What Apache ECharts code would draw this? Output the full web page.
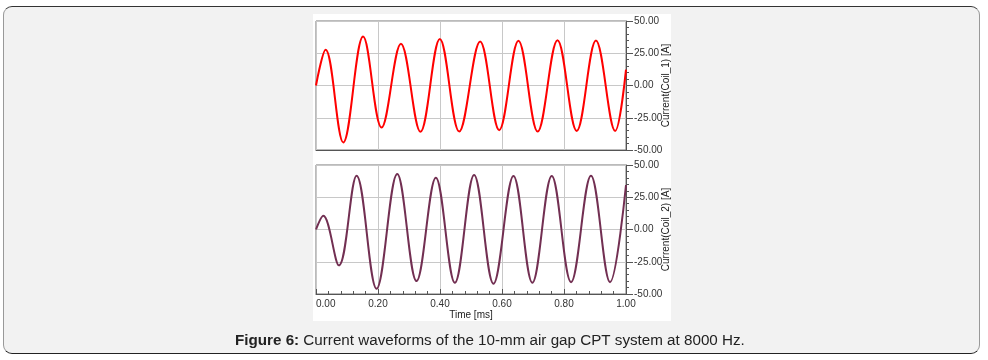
<!DOCTYPE html>
<html><head><meta charset="utf-8">
<script src="https://cdn.jsdelivr.net/npm/echarts@6/dist/echarts.min.js"></script>
<style>
html,body{margin:0;padding:0;background:#fff;}
#wrap{position:relative;width:988px;height:360px;overflow:hidden;}
#frame{position:absolute;left:3px;top:6px;width:975px;height:346px;background:#f2f2f2;border:1px solid #999;border-top-color:#333;border-bottom-color:#222;border-radius:9px;}
#panel{position:absolute;left:313px;top:14px;width:358px;height:307px;background:#fff;}
#chart{position:absolute;left:0;top:0;width:988px;height:360px;}
</style></head>
<body><div id="wrap"><div id="frame"></div><div id="panel"></div><div id="chart"></div></div>
<script>
// Time axis [ms]
const xTickValues = [0, 0.2, 0.4, 0.6, 0.8, 1.0];
const yTickValues = [-50, -25, 0, 25, 50];

// Coil_1 current: start, successive peaks/troughs, end
const coil1Time = [0, 0.031, 0.088, 0.152, 0.2115, 0.274, 0.337, 0.3995, 0.462, 0.5295, 0.591, 0.653, 0.715, 0.779, 0.841, 0.903, 0.965, 1.0];
const coil1Current = [0, 27.7, -44.1, 37.9, -32.6, 32.3, -35.9, 36.1, -35.6, 34.1, -34.6, 34.6, -35.7, 35.1, -35.2, 34.8, -35.2, 12.3];

// Coil_2 current: start, successive peaks/troughs, end
const coil2Time = [0, 0.0235, 0.074, 0.131, 0.1954, 0.262, 0.3243, 0.3866, 0.448, 0.510, 0.5725, 0.637, 0.698, 0.7605, 0.8228, 0.887, 0.9485, 1.0];
const coil2Current = [0, 10.6, -27.8, 41.7, -45.9, 43.0, -40.0, 40.2, -41.3, 42.3, -42.0, 41.5, -41.3, 41.5, -40.8, 41.7, -40.8, 34.5];

const FONT = '"Liberation Sans", Arial, sans-serif';
const chart = echarts.init(document.getElementById('chart'), null, {renderer: 'canvas'});

function yAxisCfg(gridIndex, name) {
  return {
    type: 'value', gridIndex: gridIndex, position: 'right',
    min: yTickValues[0], max: yTickValues[yTickValues.length - 1], interval: 25,
    axisLine: {show: true, onZero: false, lineStyle: {color: '#555', width: 1}},
    axisTick: {show: true, inside: false, length: 7, lineStyle: {color: '#555'}},
    minorTick: {show: true, splitNumber: 5, length: 3, lineStyle: {color: '#555'}},
    splitLine: {show: true, lineStyle: {color: '#c8c8c8', width: 1}},
    axisLabel: {margin: 8, fontSize: 10, color: '#333', fontFamily: FONT, formatter: v => v.toFixed(2)},
    name: name, nameLocation: 'middle', nameRotate: 90, nameGap: 35, nameMoveOverlap: false,
    nameTextStyle: {fontSize: 10, color: '#222', fontFamily: FONT}
  };
}

const option = {
  animation: false,
  backgroundColor: 'transparent',
  title: {
    left: 235, top: 333, padding: 0,
    text: '{b|Figure 6:} Current waveforms of the 10-mm air gap CPT system at 8000 Hz.',
    textStyle: {
      fontSize: 15.2, fontWeight: 'normal', color: '#222', fontFamily: FONT,
      rich: {b: {fontSize: 15.2, fontWeight: 'bold', color: '#222', fontFamily: FONT}}
    }
  },
  grid: [
    {left: 316, right: 362, top: 21, height: 129, show: true, borderColor: '#777', borderWidth: 1, backgroundColor: 'transparent'},
    {left: 316, right: 362, top: 165, height: 129, show: true, borderColor: '#777', borderWidth: 1, backgroundColor: 'transparent'}
  ],
  xAxis: [
    {
      type: 'value', gridIndex: 0, min: xTickValues[0], max: xTickValues[xTickValues.length - 1], interval: 0.2,
      axisLine: {show: true, onZero: false, lineStyle: {color: '#555'}},
      axisTick: {show: false}, axisLabel: {show: false},
      splitLine: {show: true, lineStyle: {color: '#c8c8c8', width: 1}}
    },
    {
      type: 'value', gridIndex: 1, min: xTickValues[0], max: xTickValues[xTickValues.length - 1], interval: 0.2,
      axisLine: {show: true, onZero: false, lineStyle: {color: '#555'}},
      axisTick: {show: true, inside: true, length: 5, lineStyle: {color: '#555'}},
      minorTick: {show: true, splitNumber: 5, length: 3, lineStyle: {color: '#555'}},
      splitLine: {show: true, lineStyle: {color: '#c8c8c8', width: 1}},
      axisLabel: {margin: 5, fontSize: 10, color: '#333', fontFamily: FONT, alignMinLabel: 'left', formatter: v => v.toFixed(2)},
      name: 'Time [ms]', nameLocation: 'middle', nameGap: 16, nameMoveOverlap: false,
      nameTextStyle: {fontSize: 10, color: '#222', fontFamily: FONT}
    }
  ],
  yAxis: [yAxisCfg(0, 'Current(Coil_1) [A]'), yAxisCfg(1, 'Current(Coil_2) [A]')],
  series: [
    {
      type: 'line', xAxisIndex: 0, yAxisIndex: 0, showSymbol: false, smooth: 0.37,
      lineStyle: {color: '#ff0000', width: 2}, itemStyle: {color: '#ff0000'},
      data: coil1Time.map((t, i) => [t, coil1Current[i]])
    },
    {
      type: 'line', xAxisIndex: 1, yAxisIndex: 1, showSymbol: false, smooth: 0.37,
      lineStyle: {color: '#722f52', width: 2}, itemStyle: {color: '#722f52'},
      data: coil2Time.map((t, i) => [t, coil2Current[i]])
    }
  ]
};
chart.setOption(option);
</script>
</body></html>
